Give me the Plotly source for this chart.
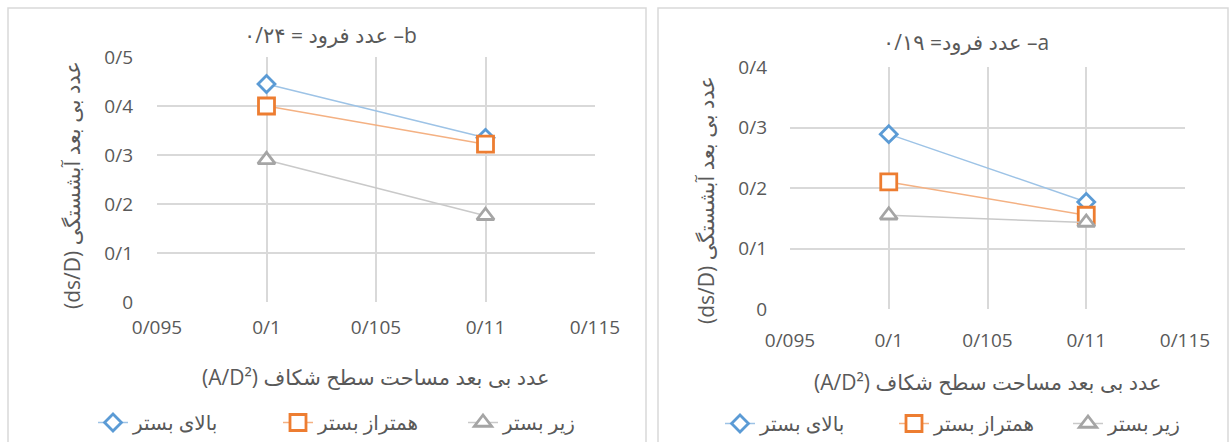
import plotly.graph_objects as go

W, H = 1231, 442

x_vals = [0.1, 0.11]
# Panel b (Froude = 0.24)
b_top = [0.445, 0.335]
b_level = [0.400, 0.322]
b_below = [0.290, 0.176]
# Panel a (Froude = 0.19)
a_top = [0.289, 0.177]
a_level = [0.210, 0.155]
a_below = [0.155, 0.143]

series_names = ["بالای بستر", "همتراز بستر", "زیر بستر"]
x_ticks = [0.095, 0.1, 0.105, 0.11, 0.115]
x_ticktext = ["0/095", "0/1", "0/105", "0/11", "0/115"]
yb_ticks = [0, 0.1, 0.2, 0.3, 0.4, 0.5]
yb_ticktext = ["0", "0/1", "0/2", "0/3", "0/4", "0/5"]
ya_ticks = [0, 0.1, 0.2, 0.3, 0.4]
ya_ticktext = ["0", "0/1", "0/2", "0/3", "0/4"]

title_b = "\u202Bb– عدد فرود = ۰/۲۴\u202C"
title_a = "\u202Ba– عدد فرود= ۰/۱۹\u202C"
ytitle = "\u202Bعدد بی بعد آبشستگی (ds/D)\u202C"
xtitle = "\u202Bعدد بی بعد مساحت سطح شکاف (A/D²)\u202C"

FONT = "Open Sans, DejaVu Sans, sans-serif"
TXT = "#595959"
GRID = "#d9d9d9"

styles = [
    dict(line=dict(color="#9DC3E6", width=1.5),
         marker=dict(symbol="diamond", size=13, color="white", line=dict(color="#5B9BD5", width=2.8))),
    dict(line=dict(color="#F4B183", width=1.5),
         marker=dict(symbol="square", size=16, color="white", line=dict(color="#ED7D31", width=2.8))),
    dict(line=dict(color="#C9C9C9", width=1.5),
         marker=dict(symbol="triangle-up", size=15, color="white", line=dict(color="#A5A5A5", width=2.8))),
]

fig = go.Figure()
for name, ys, st in zip(series_names, [b_top, b_level, b_below], styles):
    fig.add_trace(go.Scatter(x=x_vals, y=ys, name=name, mode="lines+markers",
                             xaxis="x", yaxis="y", legend="legend", **st))
for name, ys, st in zip(series_names, [a_top, a_level, a_below], styles):
    fig.add_trace(go.Scatter(x=x_vals, y=ys, name=name, mode="lines+markers",
                             xaxis="x2", yaxis="y2", legend="legend2", **st))

def px(x):
    return x / W

def py(y):
    return 1 - y / H

axis_common = dict(showgrid=True, gridcolor=GRID, gridwidth=1.5, zeroline=False, automargin=False,
                   showline=False, ticks="", tickfont=dict(size=19, color=TXT, family=FONT))

fig.update_layout(
    template="none",
    autosize=False,
    width=W, height=H,
    margin=dict(l=0, r=0, t=0, b=0, pad=0, autoexpand=False),
    paper_bgcolor="white", plot_bgcolor="white",
    font=dict(family=FONT, color=TXT),
    xaxis=dict(domain=[px(157), px(595)], range=[0.095, 0.115], tickvals=x_ticks,
               ticktext=x_ticktext, anchor="y", ticklabelstandoff=12, **axis_common),
    yaxis=dict(domain=[py(302), py(57)], range=[0, 0.5], tickvals=yb_ticks,
               ticktext=yb_ticktext, anchor="x", ticklabelstandoff=23, **axis_common),
    xaxis2=dict(domain=[px(790), px(1185)], range=[0.095, 0.115], tickvals=x_ticks,
                ticktext=x_ticktext, anchor="y2", ticklabelstandoff=18, **axis_common),
    yaxis2=dict(domain=[py(309), py(67)], range=[0, 0.4], tickvals=ya_ticks,
                ticktext=ya_ticktext, anchor="x2", ticklabelstandoff=22, **axis_common),
    legend=dict(orientation="h", x=px(93), y=py(403), xanchor="left", yanchor="top",
                font=dict(size=20, color=TXT, family=FONT), entrywidth=140,
                bgcolor="rgba(0,0,0,0)", itemwidth=30),
    legend2=dict(orientation="h", x=px(720), y=py(404), xanchor="left", yanchor="top",
                 font=dict(size=20, color=TXT, family=FONT), entrywidth=129,
                 bgcolor="rgba(0,0,0,0)", itemwidth=30),
    showlegend=True,
)

fig.add_shape(type="rect", xref="paper", yref="paper", x0=px(8), x1=px(646), y0=-0.05, y1=py(8),
              line=dict(color=GRID, width=1.5), layer="below")
fig.add_shape(type="rect", xref="paper", yref="paper", x0=px(658), x1=px(1228), y0=-0.05, y1=py(8),
              line=dict(color=GRID, width=1.5), layer="below")

ann = [
    dict(text=title_b, x=px(330), y=py(35), font=dict(size=21, color=TXT, family=FONT)),
    dict(text=title_a, x=px(966), y=py(42), font=dict(size=21, color=TXT, family=FONT)),
    dict(text=ytitle, x=px(72), y=py(185), textangle=-90, font=dict(size=21, color=TXT, family=FONT)),
    dict(text=ytitle, x=px(706), y=py(200), textangle=-90, font=dict(size=21, color=TXT, family=FONT)),
    dict(text=xtitle, x=px(376), y=py(377), font=dict(size=21, color=TXT, family=FONT)),
    dict(text=xtitle, x=px(988), y=py(382), font=dict(size=21, color=TXT, family=FONT)),
]
for a in ann:
    fig.add_annotation(xref="paper", yref="paper", showarrow=False,
                       xanchor="center", yanchor="middle", **a)

fig.write_html("out.html", config={"displayModeBar": False, "responsive": False},
               post_script="document.body.style.margin='0';document.body.style.overflow='hidden';")
